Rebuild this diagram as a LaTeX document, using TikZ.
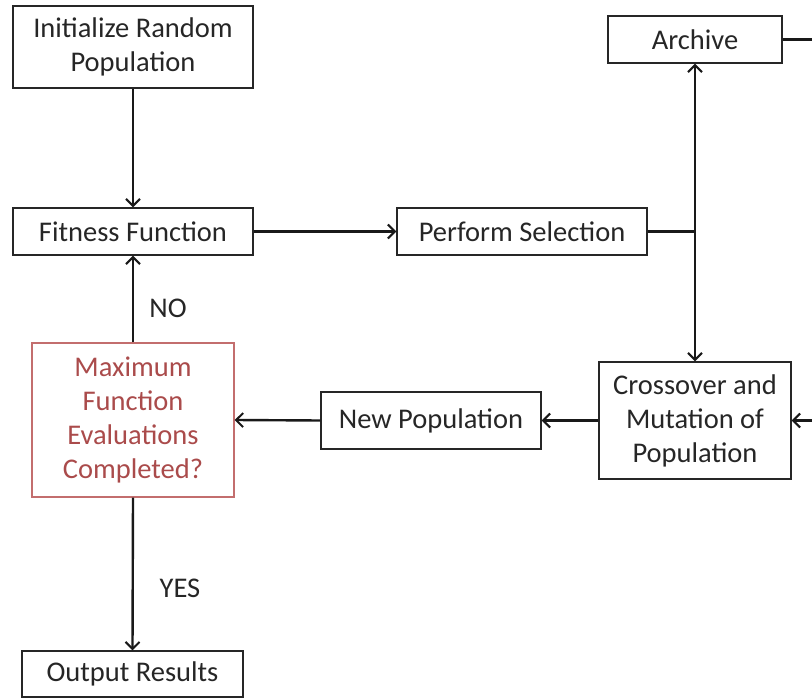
\documentclass[tikz,border=0pt]{standalone}
\usepackage{fontspec}
\setmainfont{Carlito}
\usetikzlibrary{arrows.meta}
\definecolor{redtxt}{RGB}{170,75,75}
\definecolor{redbox}{RGB}{195,110,110}
\tikzset{
  box/.style={draw=black!85, line width=1.4pt, align=center, inner sep=0pt,
    font=\fontsize{28.5}{34}\selectfont, text=black!85},
  redbox/.style={box, draw=redbox, text=redtxt},
  arr/.style={line width=2.4pt, draw=black!90, -{Straight Barb[length=7pt,width=14pt,line width=2pt]}},
  ln/.style={line width=2.4pt, draw=black!90},
  lbl/.style={font=\fontsize{28.5}{34}\selectfont, text=black!85}
}
\begin{document}
\begin{tikzpicture}[x=1pt,y=-1pt]
\useasboundingbox (0,0) rectangle (812,698);
\node[box, minimum width=240pt, minimum height=82pt] (init) at (133,47) {Initialize Random\\Population};
\node[box, minimum width=240pt, minimum height=47pt] (fit) at (133,231.5) {Fitness Function};
\node[box, minimum width=250pt, minimum height=47pt] (sel) at (522,231.5) {Perform Selection};
\node[box, minimum width=174pt, minimum height=47pt] (arch) at (695,39.5) {Archive};
\node[box, minimum width=192pt, minimum height=117pt] (cross) at (695,420.5) {Crossover and\\Mutation of\\Population};
\node[box, minimum width=220pt, minimum height=57pt] (newp) at (431,420.5) {New Population};
\node[redbox, minimum width=202pt, minimum height=154pt] (max) at (133,420) {Maximum\\Function\\Evaluations\\Completed?};
\node[box, minimum width=221pt, minimum height=46pt] (out) at (132.5,674) {Output Results};
\coordinate (junc) at (695,231.5);
\coordinate (archout) at (812,39.5);
\coordinate (crossin) at (812,420.5);
\node[lbl] (no) at (168,308) {NO};
\node[lbl] (yes) at (180,588) {YES};
\draw[arr] (init.south) -- (fit.north);
\draw[arr] (fit.east) -- (sel.west);
\draw[ln] (sel.east) -- (junc);
\draw[arr] (junc) -- (arch.south);
\draw[arr] (junc) -- (cross.north);
\draw[ln] (arch.east) -- (archout);
\draw[arr] (crossin) -- (cross.east);
\draw[arr] (cross.west) -- (newp.east);
\draw[arr] (newp.west) -- (max.east);
\draw[arr] (max.north) -- (fit.south);
\draw[arr] (max.south) -- (out.north);
\end{tikzpicture}
\end{document}
